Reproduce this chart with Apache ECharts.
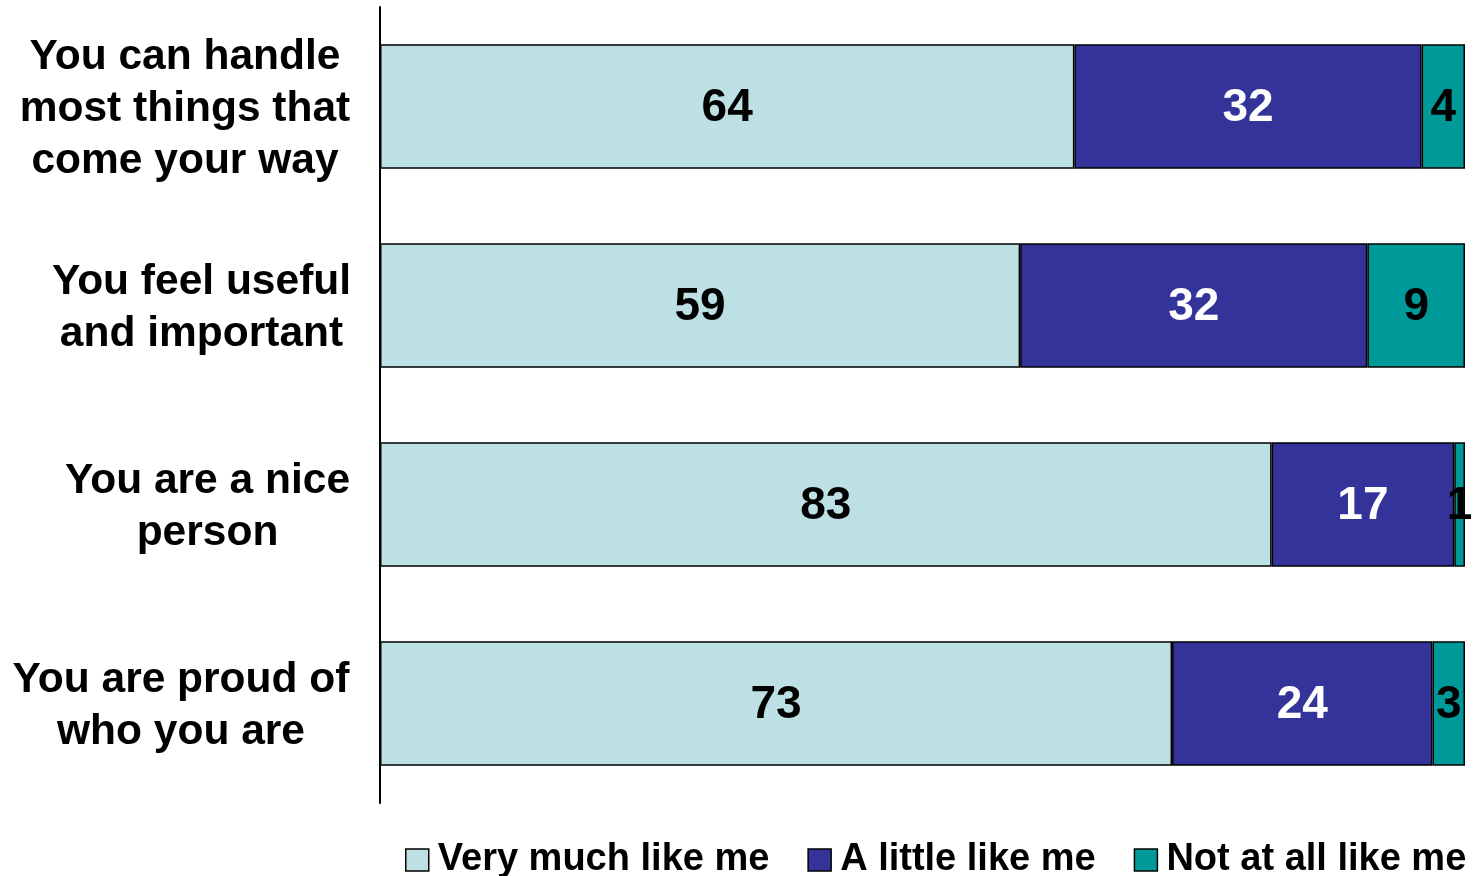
<!DOCTYPE html>
<html>
<head>
<meta charset="utf-8">
<script src="https://cdn.jsdelivr.net/npm/echarts@6/dist/echarts.min.js"></script>
<style>
html,body{margin:0;padding:0;background:#fff;}
#chart{width:1478px;height:876px;}
</style>
</head>
<body>
<div id="chart"></div>
<script>
var categories = [
  "You can handle\nmost things that\ncome your way",
  "You feel useful\nand important",
  "You are a nice\nperson",
  "You are proud of\nwho you are"
];
var seriesNames = ["Very much like me", "A little like me", "Not at all like me"];
var veryMuch = [64, 59, 83, 73];
var aLittle = [32, 32, 17, 24];
var notAtAll = [4, 9, 1, 3];

var colors = ["#BCE0E3", "#333399", "#009999"];
var labelColors = ["#000", "#fff", "#000"];
var raw = [veryMuch, aLittle, notAtAll];
var totals = categories.map(function (c, i) { return veryMuch[i] + aLittle[i] + notAtAll[i]; });

// block widths for centering multi-line category labels (layout only)
var labelWidths = [330, 297, 285, 338];
var rich = {};
labelWidths.forEach(function (w, i) {
  rich['c' + i] = {width: w, align: 'center', fontSize: 42.5, fontWeight: 'bold',
    fontFamily: 'Liberation Sans, Arial, sans-serif', color: '#000', lineHeight: 52};
});

var series = raw.map(function (vals, s) {
  return {
    name: seriesNames[s],
    type: 'bar',
    stack: 'total',
    barCategoryGap: '37.5%',
    itemStyle: {color: colors[s], borderColor: '#000', borderWidth: 1.5},
    label: {
      show: true, position: 'inside', color: labelColors[s], offset: [0, 2],
      fontSize: 46, fontWeight: 'bold', fontFamily: 'Liberation Sans, Arial, sans-serif',
      formatter: function (p) { return vals[p.dataIndex]; }
    },
    data: vals.map(function (v, i) { return v / totals[i] * 100; })
  };
});

var chart = echarts.init(document.getElementById('chart'), null, {renderer: 'canvas'});
chart.setOption({
  animation: false,
  backgroundColor: '#fff',
  grid: {left: 380, right: 13, top: 7, bottom: 73, containLabel: false},
  xAxis: {
    type: 'value', min: 0, max: 100,
    axisLine: {show: false}, axisTick: {show: false},
    axisLabel: {show: false}, splitLine: {show: false}
  },
  yAxis: {
    type: 'category', inverse: true, data: categories,
    axisLine: {show: true, lineStyle: {color: '#000', width: 2}},
    axisTick: {show: false},
    axisLabel: {
      margin: 30, align: 'right', padding: [6, 0, 0, 0],
      formatter: function (v, i) {
        return v.split('\n').map(function (l) { return '{c' + i + '|' + l + '}'; }).join('\n');
      },
      rich: rich
    }
  },
  legend: {
    left: 405, top: 841, width: 1073, padding: 0,
    itemWidth: 23, itemHeight: 22, itemGap: 38,
    icon: 'rect',
    itemStyle: {borderColor: '#000', borderWidth: 1.5},
    textStyle: {fontSize: 38, fontWeight: 'bold', color: '#000',
      fontFamily: 'Liberation Sans, Arial, sans-serif', padding: [0, 0, 0, 4]},
    data: seriesNames
  },
  series: series
});
</script>
</body>
</html>
